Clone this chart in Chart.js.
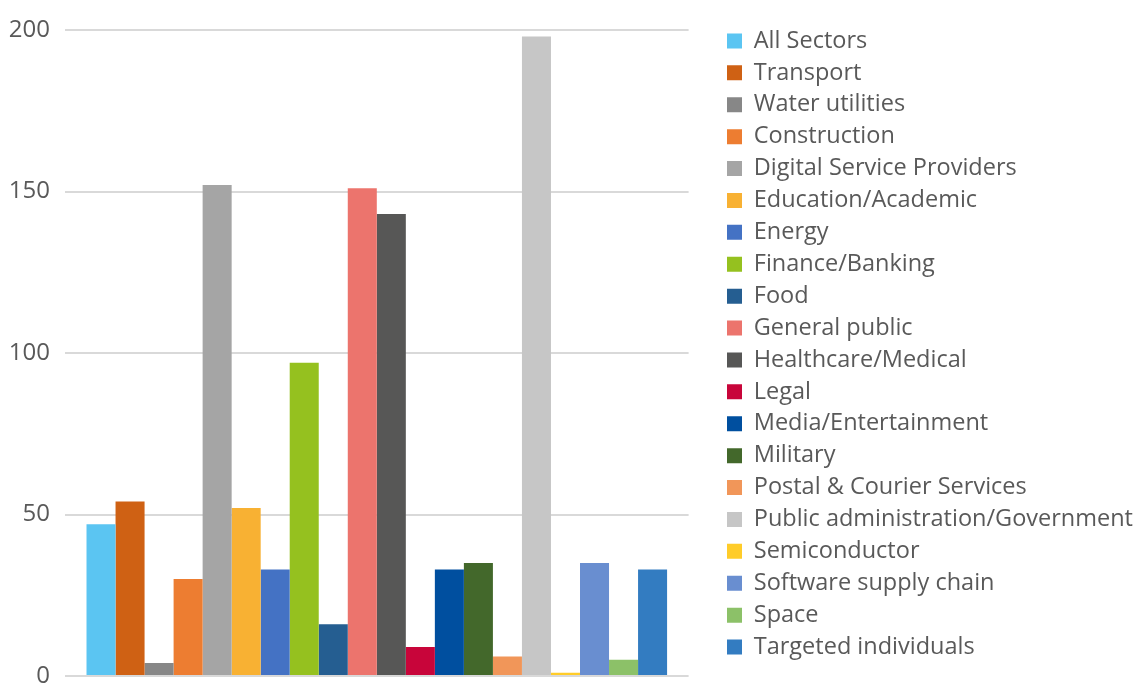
<!DOCTYPE html>
<html>
<head>
<meta charset="utf-8">
<script src="https://cdn.jsdelivr.net/npm/chart.js@4.4.0/dist/chart.umd.min.js"></script>
<style>
    html, body { margin: 0; padding: 0; background: #ffffff; }
    #wrap { width: 1137px; height: 684px; }
</style>
</head>
<body>
<div id="wrap"><canvas id="chartContainer"></canvas></div>
<script>
const sectors = [
    "All Sectors", "Transport", "Water utilities", "Construction",
    "Digital Service Providers", "Education/Academic", "Energy",
    "Finance/Banking", "Food", "General public", "Healthcare/Medical",
    "Legal", "Media/Entertainment", "Military", "Postal & Courier Services",
    "Public administration/Government", "Semiconductor",
    "Software supply chain", "Space", "Targeted individuals",
];
const incidents = [47, 54, 4, 30, 152, 52, 33, 97, 16, 151, 143, 9, 33, 35, 6, 198, 1, 35, 5, 33];
const sectorColors = [
    "#5BC5F2", "#CF6114", "#878787", "#ED7D31", "#A5A5A5", "#F8B133",
    "#4472C4", "#95C11F", "#255E91", "#EC746D", "#575756", "#C8053A",
    "#004F9F", "#43682B", "#F19659", "#C6C6C6", "#FFCC29", "#698ED0",
    "#8CC168", "#337CC1",
];
const yTicks = [0, 50, 100, 150, 200];

const textColor = "#595959";
const fontFamily = "'Open Sans', sans-serif";

Chart.defaults.font.family = fontFamily;
Chart.defaults.color = textColor;

const datasets = sectors.map((name, i) => ({
    label: name,
    data: [incidents[i]],
    backgroundColor: sectorColors[i],
    borderWidth: 0,
    categoryPercentage: 0.931,
    barPercentage: 1,
}));

const ctx = document.getElementById("chartContainer");
new Chart(ctx, {
    type: "bar",
    data: { labels: [""], datasets },
    options: {
        responsive: true,
        maintainAspectRatio: false,
        animation: false,
        layout: { padding: { top: 12, bottom: 8, left: 0, right: 0 } },
        plugins: {
            tooltip: { enabled: false },
            legend: {
                position: "right",
                align: "center",
                maxWidth: 418.4,
                labels: {
                    boxWidth: 15,
                    boxHeight: 15,
                    padding: 8.4,
                    color: textColor,
                    font: { size: 23.5, family: fontFamily },
                },
            },
        },
        scales: {
            // empty top axis, only keeps the plot top at the 200 line
            x: {
                position: "top",
                display: true,
                ticks: { display: false },
                grid: { display: false },
                border: { display: false },
                afterFit: (scale) => { scale.height = 18; },
            },
            y: {
                min: 0,
                max: 200,
                afterBuildTicks: (scale) => {
                    scale.ticks = yTicks.map((v) => ({ value: v }));
                },
                ticks: {
                    padding: 15,
                    color: textColor,
                    font: { size: 24, family: fontFamily },
                },
                grid: { color: "#d9d9d9", lineWidth: 2, drawTicks: false },
                border: { display: false },
                afterFit: (scale) => {
                    scale.width = 65;
                    scale.paddingTop = 0;
                    scale.paddingBottom = 0;
                },
            },
            // spacer between plot and legend
            yRight: {
                position: "right",
                display: true,
                ticks: { display: false },
                grid: { display: false },
                border: { display: false },
                afterFit: (scale) => { scale.width = 30; },
            },
        },
    },
});
</script>
</body>
</html>
